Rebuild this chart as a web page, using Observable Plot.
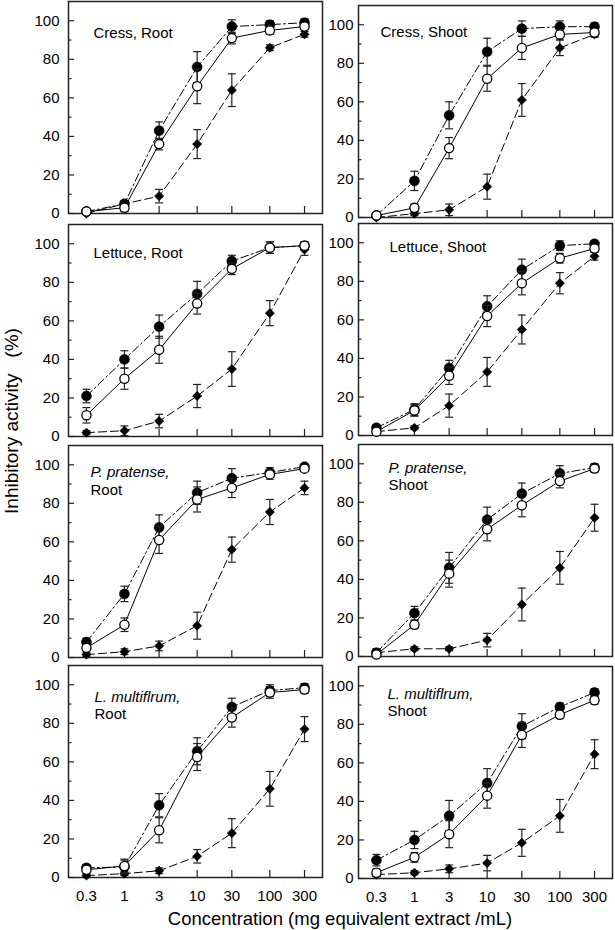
<!DOCTYPE html>
<html>
<head>
<meta charset="utf-8">
<script src="https://cdn.jsdelivr.net/npm/d3@7"></script>
<script src="https://cdn.jsdelivr.net/npm/@observablehq/plot@0.6"></script>
<style>
  body { margin: 0; background: #fff; }
  #chart { position: relative; width: 615px; height: 930px; overflow: hidden;
           font-family: "Liberation Sans", Arial, sans-serif; color: #000; }
  .panel { position: absolute; }
  .panel svg { display: block; overflow: visible; }
  #ytitle { position: absolute; left: 12px; top: 421px; white-space: pre; font-size: 19px;
            transform: translate(-50%, -50%) rotate(-90deg); }
  #xtitle { position: absolute; left: 340px; top: 919px; white-space: pre; font-size: 18.5px;
            transform: translate(-50%, -50%); }
</style>
</head>
<body>
<div id="chart">
  <div id="ytitle">Inhibitory activity   (%)</div>
  <div id="xtitle">Concentration (mg equivalent extract /mL)</div>
</div>
<script>
// ---------------- data ----------------
const concentrations = [0.3, 1, 3, 10, 30, 100, 300];
const xTickLabels = ["0.3", "1", "3", "10", "30", "100", "300"];
const yTicks = [0, 20, 40, 60, 80, 100];
const yMinorTicks = [10, 30, 50, 70, 90];

// panels in reading order: row by row, Root (left) then Shoot (right)
const labelLine1 = ["Cress, Root", "Cress, Shoot", "Lettuce, Root", "Lettuce, Shoot",
                    "P. pratense,", "P. pratense,", "L. multiflrum,", "L. multiflrum,"];
const labelLine2 = ["", "", "", "", "Root", "Shoot", "Root", "Shoot"];

// filled circles (dash-dot line)
const filledMean = [
  [1, 5, 43, 76, 97, 98, 99],
  [1, 19, 53, 86, 98, 99, 99],
  [21, 40, 57, 74, 91, 98, 99],
  [4, 13.5, 35, 67, 86, 98.5, 99.5],
  [8, 33, 67.5, 85.5, 93, 96, 99],
  [2, 22.5, 46, 71, 84.5, 95, 98],
  [5, 5.5, 37.5, 65.5, 88.5, 97, 98.5],
  [9.5, 20, 32.5, 49.5, 79, 89, 96.5]
];
const filledErr = [
  [1, 1.5, 4.5, 8, 3.5, 2, 2],
  [1, 5, 7, 7, 4, 3, 2],
  [3.5, 4.5, 6, 6.5, 3, 3, 2],
  [1, 3, 4, 5.5, 5.5, 2.5, 1],
  [2, 4, 6.5, 6, 5, 2.5, 1],
  [2, 3.5, 8, 6.5, 5.5, 4, 2],
  [1.5, 3.5, 6, 7, 4.5, 3, 2],
  [3, 4.5, 8, 7.5, 6.5, 2, 2]
];
// open circles (solid line)
const openMean = [
  [1, 3, 36, 66, 91, 95, 97],
  [1, 5, 36, 72, 88, 95, 96],
  [11, 30, 45, 69, 87, 98, 99],
  [2, 13, 31, 62, 79, 92, 97],
  [5, 17, 61, 82, 88, 95, 98],
  [1, 16.5, 43, 66, 78.5, 91, 97.5],
  [4, 6, 24.5, 62.5, 83, 96, 97.5],
  [3, 11, 23, 43, 74.5, 85, 92.5]
];
const openErr = [
  [1, 2, 3, 9, 3, 2, 1.5],
  [1, 2, 5.5, 6.5, 6, 2.5, 2],
  [4, 5.5, 7, 5.5, 3, 3, 2],
  [1, 3, 4.5, 5.5, 6, 2.5, 2],
  [1, 3.5, 7, 6.5, 5, 2.5, 1.5],
  [1, 2, 7, 6, 6, 3.5, 2],
  [1, 3.5, 6.5, 7, 5, 3, 2],
  [2, 2.5, 7, 6.5, 6.5, 2, 2]
];
// filled diamonds (dashed line)
const diamondMean = [
  [0, 5, 9, 36, 64, 86, 93],
  [0, 2, 4, 16, 61, 88, 95],
  [2, 3, 8, 21, 35, 64, 97],
  [2, 4, 15.5, 33, 55, 79, 93],
  [1.5, 3, 6, 16.5, 56, 75.5, 88],
  [2, 4, 4, 8.5, 27, 46, 72],
  [1, 2, 3.5, 11, 23, 46, 77],
  [2, 3, 5, 8, 18.5, 32.5, 64.5]
];
const diamondErr = [
  [0.5, 1, 3.5, 7.5, 8.5, 1.5, 1.5],
  [0.5, 1, 3, 6.5, 8.5, 4, 1.5],
  [1, 2.5, 3.5, 6, 9, 6.5, 3],
  [1, 1, 6, 7.5, 7.5, 5.5, 2],
  [1, 1.5, 2.5, 7, 6.5, 6.5, 3.5],
  [1, 1, 1, 3.5, 8.5, 8.5, 7],
  [1, 1, 1.5, 3.5, 7.5, 9, 6.5],
  [1, 1, 2, 4, 7, 8.5, 7.5]
];

// ---------------- layout / style ----------------
const frameW = 254, frameH = 212;
const colMarginLeft = [68, 36];
const colLeft = [0, 322];
const rowTops = [[1, 5], [224, 223], [445, 444], [665, 666]];
const tickPad = [9, 5];
const labelDx = [25, 22, 25, 31, 22, 30, 26, 29];
const labelDy1 = [32, 27, 29, 24, 27, 24, 32, 28];
const labelDy2 = [0, 0, 0, 0, 45, 41, 49, 45];
const fontFamily = '"Liberation Sans", Arial, sans-serif';

const capSymbol = {
  draw(context, size) {
    const w = Math.sqrt(size / Math.PI);
    context.moveTo(-w, 0);
    context.lineTo(w, 0);
  }
};

function rows(means, errs) {
  return concentrations.map((c, j) => ({c, v: means[j], lo: means[j] - errs[j], hi: means[j] + errs[j]}));
}

function seriesMarks(data, dash, dotOpts) {
  return [
    Plot.ruleX(data, {x: "c", y1: "lo", y2: "hi", stroke: "#222", strokeWidth: 1.2}),
    Plot.dot(data, {x: "c", y: "hi", symbol: capSymbol, r: 4, stroke: "#222", strokeWidth: 1.2, fill: "none"}),
    Plot.dot(data, {x: "c", y: "lo", symbol: capSymbol, r: 4, stroke: "#222", strokeWidth: 1.2, fill: "none"}),
    Plot.line(data, {x: "c", y: "v", stroke: "#000", strokeWidth: 1, strokeDasharray: dash}),
    Plot.dot(data, {x: "c", y: "v", ...dotOpts})
  ];
}

const chart = document.getElementById("chart");
for (let p = 0; p < 8; p++) {
  const row = Math.floor(p / 2), col = p % 2;
  const bottom = row === 3;
  const mTop = 2, mBottom = bottom ? 34 : 2, mRight = 2;
  const mLeft = colMarginLeft[col];
  const italic = p >= 4;

  const marks = [
    Plot.frame({stroke: "#222", strokeWidth: 1.5}),
    Plot.axisY(yTicks, {anchor: "left", tickSize: 0, tickPadding: tickPad[col], label: null, fontSize: 15}),
    Plot.axisY(yTicks, {anchor: "left", tickSize: -6, fill: "none", tickFormat: () => "", label: null, stroke: "#222", strokeWidth: 1.2}),
    Plot.axisY(yMinorTicks, {anchor: "left", tickSize: -3.5, fill: "none", tickFormat: () => "", label: null, stroke: "#222", strokeWidth: 1.2}),
    Plot.axisX(concentrations, {anchor: "bottom", tickSize: -7, fill: "none", tickFormat: () => "", label: null, stroke: "#222", strokeWidth: 1.2}),
    ...seriesMarks(rows(diamondMean[p], diamondErr[p]), "8,4", {symbol: "diamond2", r: 4.2, fill: "#000", stroke: "#000", strokeWidth: 0.5}),
    ...seriesMarks(rows(filledMean[p], filledErr[p]), "8,3,2,3", {symbol: "circle", r: 5, fill: "#000", stroke: "#000", strokeWidth: 0.5}),
    ...seriesMarks(rows(openMean[p], openErr[p]), null, {symbol: "circle", r: 4.6, fill: "#fff", stroke: "#000", strokeWidth: 1.3}),
    Plot.text([labelLine1[p]], {frameAnchor: "top-left", dx: labelDx[p], dy: labelDy1[p], textAnchor: "start",
      lineAnchor: "middle", fontSize: 15, fontStyle: italic ? "italic" : "normal", fill: "#000"})
  ];
  if (labelLine2[p]) {
    marks.push(Plot.text([labelLine2[p]], {frameAnchor: "top-left", dx: labelDx[p], dy: labelDy2[p], textAnchor: "start",
      lineAnchor: "middle", fontSize: 15, fill: "#000"}));
  }
  if (bottom) {
    marks.push(Plot.text(concentrations, {x: (d) => d, frameAnchor: "bottom", dy: 19, lineAnchor: "middle",
      text: (d, i) => xTickLabels[i], fontSize: 15, fill: "#000"}));
  }

  const svg = Plot.plot({
    width: mLeft + frameW + mRight,
    height: mTop + frameH + mBottom,
    marginLeft: mLeft, marginRight: mRight, marginTop: mTop, marginBottom: mBottom,
    x: {type: "log", domain: [0.17, 530], axis: null},
    y: {type: "linear", domain: [0, 110], axis: null},
    style: {fontFamily, fontSize: "15px", color: "#000", background: "transparent", overflow: "visible"},
    marks
  });
  const div = document.createElement("div");
  div.className = "panel";
  div.style.left = colLeft[col] + "px";
  div.style.top = (rowTops[row][col] - mTop) + "px";
  div.appendChild(svg);
  chart.appendChild(div);
}
</script>
</body>
</html>
